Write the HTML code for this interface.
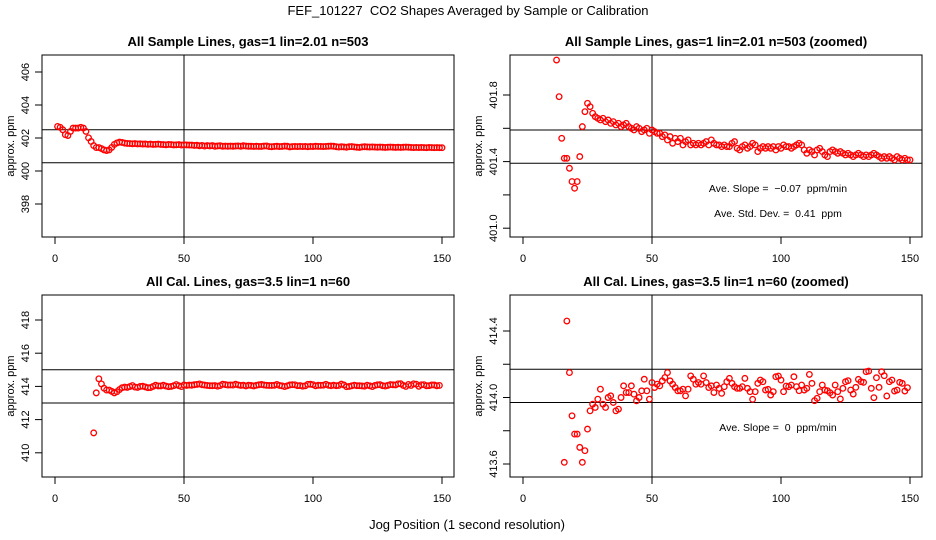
<!DOCTYPE html>
<html><head><meta charset="utf-8"><style>
html,body{margin:0;padding:0;background:#fff;overflow:hidden;width:936px;height:540px;}
svg{display:block;}
svg text{font-family:"Liberation Sans",sans-serif;fill:#000;white-space:pre;}
</style></head><body>
<svg id="c" width="936" height="540" xmlns="http://www.w3.org/2000/svg">
<text x="468" y="15" font-size="13" text-anchor="middle">FEF_101227  CO2 Shapes Averaged by Sample or Calibration</text>
<text x="467" y="529" font-size="13" text-anchor="middle">Jog Position (1 second resolution)</text>
</svg>
<script>
const sampleX = [];
for (let i = 1; i <= 150; i++) sampleX.push(i);
const sampleValues = [402.7,402.65,402.5,402.2,402.15,402.4,402.6,402.6,402.6,402.65,402.6,402.4,402.01,401.79,401.54,401.42,401.42,401.36,401.28,401.24,401.28,401.43,401.61,401.70,401.75,401.73,401.69,
401.67,401.66,401.65,401.66,401.64,401.65,401.63,401.64,401.62,401.63,401.61,401.62,401.63,401.61,401.60,401.59,401.61,401.60,401.58,401.59,401.60,401.57,401.59,
401.58,401.57,401.57,401.55,401.56,401.53,401.55,401.51,401.54,401.52,401.54,401.50,401.52,401.53,401.50,401.51,401.50,401.51,401.50,401.51,401.52,401.50,
401.53,401.51,401.50,401.50,401.49,401.50,401.49,401.49,401.51,401.52,401.48,401.47,401.49,401.50,401.48,401.49,401.51,401.50,401.46,401.48,401.49,401.48,401.49,401.48,401.49,401.47,401.49,401.48,
401.50,401.49,401.49,401.48,401.49,401.50,401.51,401.50,401.47,401.45,401.47,401.46,401.44,401.47,401.48,401.46,401.44,401.43,401.46,401.47,401.46,401.45,401.46,401.45,401.44,401.45,401.44,401.43,401.44,401.45,
401.44,401.43,401.44,401.43,401.44,401.45,401.44,401.43,401.42,401.43,401.42,401.43,401.42,401.41,401.43,401.42,401.41,401.42,401.41,401.41];
const calX = [];
for (let i = 15; i <= 150; i++) calX.push(i);
const calValues = [411.2,413.61,414.46,414.15,413.89,413.78,413.78,413.70,413.61,413.68,413.81,413.92,413.96,413.94,413.99,414.05,413.96,413.94,414.0,414.01,413.97,413.92,413.93,414.0,414.07,414.03,414.03,414.07,414.02,413.98,414.0,414.04,414.11,414.04,413.99,
414.09,414.06,414.08,414.07,414.10,414.12,414.15,414.10,414.08,414.06,
414.04,414.04,414.05,414.01,414.05,414.13,414.11,414.08,414.09,414.08,414.13,414.09,414.06,414.07,414.03,
414.075,414.055,414.025,414.065,414.095,414.115,414.085,414.065,414.055,414.055,414.065,414.115,414.055,414.035,413.989,414.035,414.085,414.105,414.095,414.045,414.049,414.015,414.035,414.125,414.129,414.105,414.035,414.069,414.065,414.075,414.125,414.065,414.041,414.075,414.045,414.055,414.139,414.085,413.981,413.995,414.035,414.075,414.045,414.041,414.029,414.015,414.075,414.035,413.991,414.055,414.095,414.101,414.045,414.021,414.061,414.109,414.095,414.091,414.155,414.159,414.055,413.999,414.119,414.061,414.155,414.131,414.009,414.095,414.105,414.039,414.045,414.091,414.085,414.039,414.059];
const xTicks = [0,50,100,150];
const p1Ticks = [398,400,402,404,406];
const p2Ticks = [401.0,401.2,401.4,401.6,401.8];
const p2Labels = ["401.0","","401.4","","401.8"];
const p3Ticks = [410,412,414,416,418];
const p4Ticks = [413.6,413.8,414.0,414.2,414.4];
const p4Labels = ["413.6","","414.0","","414.4"];
const p1HLines = [402.5,400.5];
const p2HLines = [401.59,401.39];
const p3HLines = [415,413];
const p4HLines = [414.17,413.97];

const svg = document.getElementById('c');
const NS = 'http://www.w3.org/2000/svg';
function mk(tag, attrs, parent) {
  const e = document.createElementNS(NS, tag);
  for (const k in attrs) e.setAttribute(k, attrs[k]);
  (parent || svg).appendChild(e);
  return e;
}
function panel(o) {
  const g = mk('g', {});
  
  
  const L = o.left, R = o.left + 412, T = o.top, B = o.top + 182;
  const x0 = L + 13, xs = 2.58;
  const X = v => x0 + v * xs;
  const Y = v => o.refY + (o.refV - v) * o.scale;
  const box = mk('rect', {x: L, y: T, width: R - L, height: B - T, fill: 'none', stroke: '#000', 'stroke-width': 1}, g);
  
  
  const cp = 'clip' + o.name;
  const cl = mk('clipPath', {id: cp}, g);
  mk('rect', {x: L, y: T, width: R - L, height: B - T}, cl);
  const title = mk('text', {x: (L + R) / 2, y: T - 9, 'font-size': 13, 'font-weight': 'bold', 'text-anchor': 'middle'}, g);
  title.textContent = o.title;
  
  
  xTicks.forEach(t => {
    mk('line', {x1: X(t), x2: X(t), y1: B, y2: B + 7, stroke: '#000'}, g);
    const tx = mk('text', {x: X(t), y: B + 25, 'font-size': 11, 'text-anchor': 'middle'}, g);
    tx.textContent = t;
    
    
  });
  o.yTicks.forEach((t, i) => {
    const y = Y(t);
    mk('line', {x1: L - 7, x2: L, y1: y, y2: y, stroke: '#000'}, g);
    const lab = o.yLabels ? o.yLabels[i] : String(t);
    if (lab) {
      const tx = mk('text', {x: L - 13, y: y, 'font-size': 11, 'text-anchor': 'middle', transform: `rotate(-90 ${L - 13} ${y})`}, g);
      tx.textContent = lab;
      
      
    }
  });
  const yt = mk('text', {x: L - 28, y: (T + B) / 2, 'font-size': 11, 'text-anchor': 'middle', transform: `rotate(-90 ${L - 28} ${(T + B) / 2})`}, g);
  yt.textContent = 'approx. ppm';
  
  
  o.hLines.forEach(v => {
    const ln = mk('line', {x1: L, x2: R, y1: Y(v), y2: Y(v), stroke: '#000'}, g);
    
    
  });
  const vl = mk('line', {x1: X(50), x2: X(50), y1: T, y2: B, stroke: '#000'}, g);
  
  
  const pg = mk('g', {'clip-path': `url(#${cp})`}, g);
  o.xs.forEach((xv, i) => {
    const c = mk('circle', {cx: X(xv), cy: Y(o.vals[i]), r: 2.8, fill: 'none', stroke: '#f00', 'stroke-width': 1.3}, pg);
    
    
  });
  (o.notes || []).forEach(n => {
    const tx = mk('text', {x: n[0], y: n[1], 'font-size': 10.5, 'text-anchor': 'middle'}, g);
    tx.textContent = n[2];
    
    
  });
}
panel({name: 'panel-sample', left: 42, top: 55, title: 'All Sample Lines, gas=1 lin=2.01 n=503', refV: 406, refY: 72, scale: 16.5, yTicks: p1Ticks, hLines: p1HLines, xs: sampleX, vals: sampleValues});
panel({name: 'panel-sample-zoomed', left: 510, top: 55, title: 'All Sample Lines, gas=1 lin=2.01 n=503 (zoomed)', refV: 401.8, refY: 95, scale: 166.5, yTicks: p2Ticks, yLabels: p2Labels, hLines: p2HLines, xs: sampleX, vals: sampleValues,
  notes: [[778, 192, 'Ave. Slope =  \u22120.07  ppm/min'], [778, 217, 'Ave. Std. Dev. =  0.41  ppm']]});
panel({name: 'panel-cal', left: 42, top: 295, title: 'All Cal. Lines, gas=3.5 lin=1 n=60', refV: 418, refY: 320, scale: 16.6, yTicks: p3Ticks, hLines: p3HLines, xs: calX, vals: calValues});
panel({name: 'panel-cal-zoomed', left: 510, top: 295, title: 'All Cal. Lines, gas=3.5 lin=1 n=60 (zoomed)', refV: 414.4, refY: 331, scale: 166.25, yTicks: p4Ticks, yLabels: p4Labels, hLines: p4HLines, xs: calX, vals: calValues,
  notes: [[778, 431, 'Ave. Slope =  0  ppm/min']]});
</script>
</body></html>
